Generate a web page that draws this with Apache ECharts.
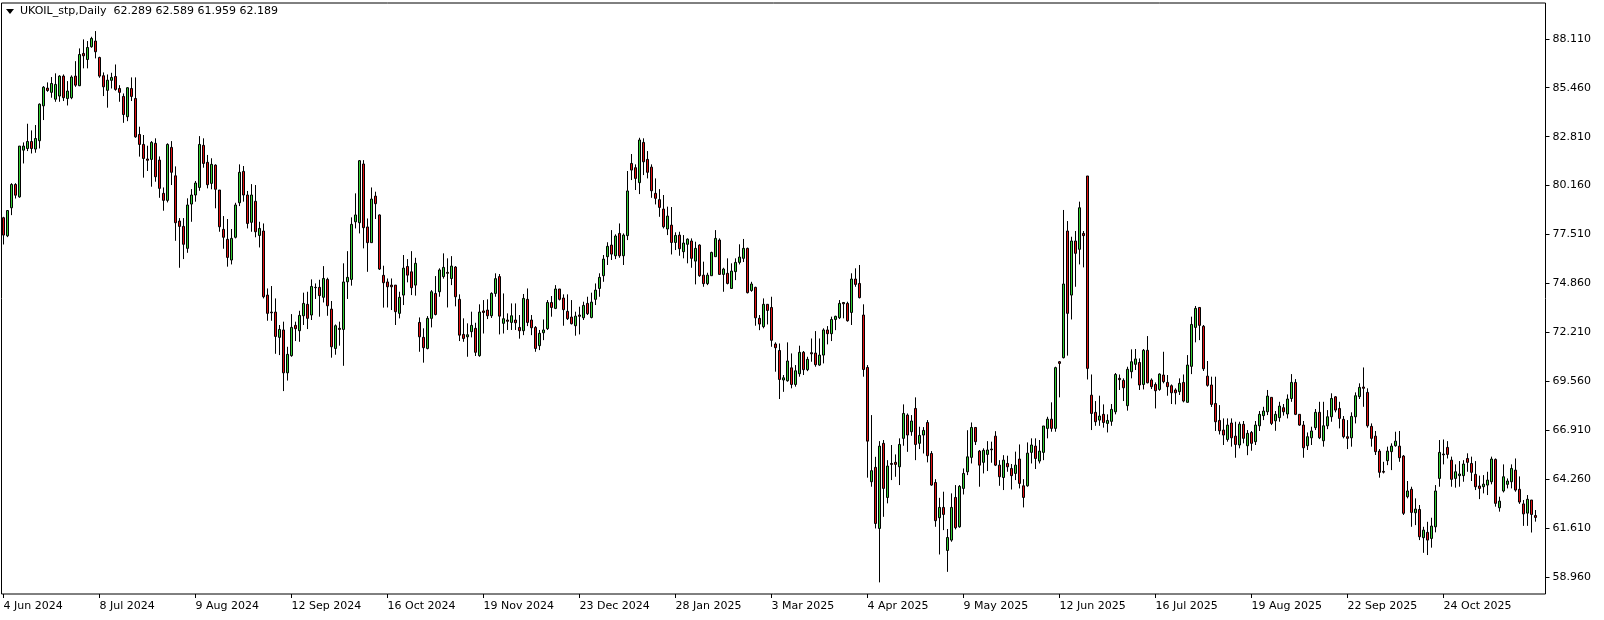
<!DOCTYPE html>
<html><head><meta charset="utf-8">
<script src="https://cdn.jsdelivr.net/npm/echarts@6/dist/echarts.min.js"></script>
<style>html,body{margin:0;padding:0;background:#fff}#c{width:1604px;height:620px}</style>
</head><body><div id="c"></div>
<script>
const symbolName = 'UKOIL_stp,Daily';
const startDate = '2024-06-04';
const holidays = ['2024-12-25', '2025-01-01', '2025-04-18'];
const monthNames = ['Jan','Feb','Mar','Apr','May','Jun','Jul','Aug','Sep','Oct','Nov','Dec'];
const yTicks = [58.96, 61.61, 64.26, 66.91, 69.56, 72.21, 74.86, 77.51, 80.16, 82.81, 85.46, 88.11];

const open = [
78.42,77.44,78.96,80.22,79.55,82.08,82.17,82.55,82.14,82.59,
84.48,85.44,85.21,84.84,85.01,86.09,84.88,84.92,86.09,85.57,
87.32,86.99,87.68,87.99,87.10,86.11,85.32,85.86,86.07,85.42,
84.99,83.89,85.42,84.88,82.93,82.39,81.60,81.58,82.45,81.54,
79.74,79.36,82.23,80.69,78.24,77.95,76.76,79.16,79.65,80.06,
82.34,81.42,80.28,81.27,79.92,77.79,77.25,76.13,77.36,79.23,
80.93,79.65,78.17,79.31,77.46,77.70,74.23,73.31,73.31,71.94,
72.34,70.02,70.95,72.59,72.30,73.11,73.73,73.15,74.65,74.65,
74.11,75.08,73.47,71.34,72.43,72.37,74.95,75.08,78.20,78.15,
81.33,77.92,77.07,79.59,78.57,75.30,74.94,74.77,74.77,73.24,
74.23,75.78,75.49,74.77,72.75,71.94,71.34,72.97,74.32,74.41,
75.23,75.46,75.13,75.75,74.00,72.10,71.97,72.25,72.43,70.95,
73.37,73.42,73.11,74.32,75.23,72.70,72.88,72.75,72.88,72.48,
72.30,74.00,72.88,72.48,71.49,72.19,72.41,73.83,73.51,74.56,
74.07,73.35,73.04,72.57,73.15,73.00,73.78,73.02,74.00,74.59,
75.28,76.31,76.94,76.36,77.57,76.36,77.45,81.36,81.13,80.32,
82.50,81.58,81.16,79.74,79.40,78.89,77.81,78.02,77.08,77.48,
76.58,76.98,77.16,76.07,76.94,75.31,74.85,75.28,76.31,77.21,
75.35,75.41,74.59,75.50,76.00,76.22,76.76,74.48,74.65,72.97,
72.52,73.73,73.56,71.58,71.23,69.63,69.59,70.29,69.39,69.97,
71.13,70.19,71.11,71.09,70.44,70.98,72.34,72.14,72.91,73.00,
73.83,73.78,73.29,75.10,74.86,73.15,70.31,64.12,64.90,61.59,
66.20,63.27,65.11,65.17,64.93,66.47,67.73,66.83,68.09,66.20,
66.65,67.33,65.65,64.08,62.17,62.73,60.40,60.96,63.27,61.68,
63.76,64.66,65.44,67.06,65.78,65.17,65.60,65.89,66.59,65.02,
64.35,65.11,64.84,64.57,65.35,63.90,63.90,65.71,66.05,65.24,
65.71,67.01,67.51,67.01,70.62,70.84,77.70,74.23,77.16,76.71,
77.57,80.68,68.81,67.88,67.46,67.77,67.28,67.39,67.91,69.72,
69.61,68.24,70.08,70.48,70.58,69.39,71.24,69.63,69.39,69.12,
69.90,69.50,69.32,69.09,69.00,69.50,68.42,70.37,72.48,73.56,
72.54,69.84,69.36,68.36,67.44,66.92,66.41,67.30,66.59,66.11,
67.23,66.07,66.79,66.29,67.15,67.70,67.91,68.69,67.42,67.59,
68.13,67.79,68.63,69.50,67.77,67.19,66.07,66.50,67.05,67.88,
66.34,67.15,67.64,68.72,68.09,67.50,66.56,66.50,67.64,68.73,
69.25,68.96,67.12,66.59,65.78,64.68,65.26,65.75,66.07,66.05,
65.51,63.31,63.71,62.44,62.62,61.09,61.38,61.05,61.68,64.30,
65.62,65.98,65.29,64.30,64.45,64.45,65.38,65.11,64.52,63.89,
63.85,63.94,64.12,65.33,62.71,63.62,63.98,64.12,64.75,63.71,
62.92,62.42,63.13,62.289];

const high = [
78.47,78.81,80.29,80.29,82.30,82.50,83.51,83.15,83.44,84.61,
85.55,85.75,86.04,86.24,86.14,86.18,85.82,86.13,86.90,87.59,
88.08,87.99,88.22,88.53,87.14,86.29,86.18,86.27,86.72,85.60,
85.15,85.49,86.02,86.02,83.35,82.90,82.32,82.57,82.72,81.74,
80.06,82.45,82.57,81.20,78.40,78.40,79.47,79.97,80.41,82.84,
82.72,81.82,81.64,81.31,79.92,78.51,78.35,77.81,79.23,81.31,
81.22,79.87,80.24,80.19,78.20,78.11,74.59,74.72,74.05,72.61,
72.79,71.43,73.20,72.79,73.38,74.36,74.41,75.08,74.86,75.06,
75.80,75.17,73.91,72.64,72.79,75.95,76.61,78.44,79.74,81.54,
81.54,78.38,80.06,79.83,78.60,75.82,75.13,75.13,74.77,74.41,
76.40,76.18,76.61,76.25,73.02,72.43,73.09,74.50,75.26,75.68,
76.49,76.22,76.34,75.80,74.27,72.97,72.70,73.33,72.73,73.73,
73.96,74.00,74.38,75.41,75.37,74.32,73.24,73.78,73.78,73.15,
74.29,74.59,73.15,72.55,72.34,72.91,73.96,74.18,74.77,74.56,
74.27,74.27,73.96,73.33,73.60,73.87,74.14,74.36,74.86,75.41,
76.40,77.09,77.75,77.52,78.11,77.57,80.95,81.87,81.31,82.75,
82.72,82.03,81.31,80.55,79.97,79.65,79.02,79.00,77.63,77.66,
77.48,77.30,77.30,77.12,76.98,76.04,75.44,76.58,77.75,77.30,
75.71,76.22,75.95,76.22,76.98,77.27,76.80,74.95,74.68,73.15,
74.05,73.73,74.14,71.67,71.61,69.90,71.67,71.07,70.44,71.49,
71.20,70.89,71.88,72.28,71.88,72.43,72.55,73.06,73.11,73.96,
73.83,73.87,75.41,75.68,75.86,73.73,70.44,67.73,65.47,66.32,
66.38,65.29,66.11,65.60,66.47,68.31,67.82,67.73,68.69,67.10,
67.08,67.46,65.78,64.26,63.25,63.58,61.56,63.49,63.94,63.94,
64.84,66.91,67.33,67.06,65.84,65.93,66.32,66.29,66.86,65.29,
65.56,65.53,65.08,65.75,66.14,64.26,66.25,66.47,66.47,66.38,
67.14,67.64,68.42,70.35,70.66,78.84,78.24,77.39,77.70,79.29,
77.70,80.68,69.93,68.49,68.78,68.31,67.77,68.33,70.01,69.93,
69.72,70.35,71.29,71.31,70.80,71.31,72.01,69.72,69.50,69.99,
71.16,69.90,69.39,69.18,69.72,69.93,70.98,73.06,73.64,73.56,
72.61,70.66,69.81,69.81,68.27,67.55,67.55,67.55,67.37,67.37,
67.41,66.92,66.87,67.41,67.95,68.18,69.09,68.69,67.95,68.45,
68.33,68.85,69.95,69.68,67.77,67.41,66.79,67.10,68.06,68.45,
68.45,68.00,68.91,68.76,68.45,67.68,67.46,67.88,68.96,69.45,
70.31,69.18,67.28,66.87,65.89,65.20,66.02,66.20,66.83,66.87,
65.57,64.16,63.85,63.22,62.86,61.68,61.95,62.17,63.94,66.38,
66.41,66.32,65.48,65.06,65.24,65.29,65.66,65.48,65.24,64.45,
64.48,64.66,65.48,65.38,63.31,65.06,64.30,65.06,65.38,64.41,
63.13,63.40,63.13,62.589];

const low = [
76.97,77.37,78.56,79.46,79.50,81.36,82.03,81.90,81.94,82.17,
83.71,85.24,84.92,84.70,84.70,84.74,84.50,84.84,85.51,85.55,
86.51,86.51,87.63,87.05,86.00,85.01,84.38,85.42,85.30,84.70,
83.56,83.65,84.74,82.75,81.73,80.59,80.95,80.10,80.37,79.50,
78.80,79.25,80.19,77.17,75.71,76.18,76.52,78.20,79.29,79.88,
81.13,80.01,79.96,78.93,77.66,76.74,75.77,75.89,77.30,79.05,
79.29,77.84,77.66,77.36,76.81,74.05,72.84,72.84,71.05,70.98,
69.03,69.60,70.89,71.74,71.70,72.61,72.39,72.88,74.02,73.06,
73.83,73.11,70.84,71.00,71.49,70.40,74.02,74.74,77.84,77.57,
76.76,75.49,77.07,78.35,75.59,73.55,73.56,73.42,72.61,72.97,
73.69,74.92,74.23,74.20,71.16,70.57,71.29,72.48,73.13,74.14,
75.12,73.56,74.77,73.62,71.74,71.70,70.89,71.94,70.93,70.89,
72.15,72.93,72.99,74.14,72.10,72.15,72.34,72.34,72.34,71.87,
72.06,72.55,72.06,71.16,71.25,71.79,72.34,73.06,73.47,73.94,
72.57,72.88,72.64,72.03,72.10,72.88,73.15,72.97,73.69,74.14,
74.95,75.86,76.13,76.18,76.25,75.86,77.21,80.46,79.92,79.70,
80.73,80.55,79.50,79.14,78.47,77.84,77.48,76.43,76.67,76.36,
76.22,75.95,75.71,74.81,75.22,74.68,74.77,75.28,76.31,75.35,
74.41,74.81,74.56,75.04,75.89,76.02,74.32,74.41,72.57,72.33,
72.43,72.64,71.43,70.08,68.60,68.99,69.54,69.18,69.27,69.81,
69.90,70.11,70.62,70.35,70.40,70.53,71.56,71.74,72.33,72.93,
72.97,72.79,72.61,74.68,74.05,69.81,64.34,63.85,61.59,58.67,
62.22,62.95,64.21,64.39,63.94,66.07,65.74,66.61,65.29,65.89,
65.65,65.17,63.90,61.68,60.18,61.50,59.24,60.87,61.54,61.63,
63.43,64.48,65.11,66.11,63.85,64.57,64.70,65.15,64.97,63.90,
63.67,64.66,63.70,64.21,63.76,62.73,63.85,65.11,64.81,65.11,
65.29,66.47,66.83,66.83,68.69,70.80,70.95,72.91,74.68,75.89,
75.73,69.66,66.92,67.15,67.15,67.05,66.79,67.15,67.77,69.09,
68.49,67.97,69.72,70.17,69.09,69.12,69.45,69.14,68.09,69.05,
69.45,68.78,68.33,68.31,68.82,68.42,68.42,69.95,71.67,71.79,
70.12,69.27,68.17,66.87,66.68,66.11,66.29,66.02,65.42,65.93,
66.20,65.56,65.80,66.11,66.87,67.46,67.73,67.19,66.88,67.37,
67.70,67.55,68.45,67.73,67.15,65.42,65.84,66.11,66.92,66.43,
66.02,66.97,67.37,67.88,67.01,66.47,65.89,66.02,67.28,68.60,
68.18,67.05,66.02,65.57,64.34,64.57,65.02,64.75,66.02,65.20,
62.32,63.22,61.68,61.77,60.96,60.27,60.15,60.55,61.38,63.85,
65.06,65.38,63.85,63.80,63.85,64.12,64.66,64.16,63.67,63.18,
63.49,63.40,63.98,62.77,62.50,63.54,63.76,63.76,63.58,62.92,
61.73,61.73,61.37,61.959];

const close = [
77.48,78.81,80.22,79.64,82.30,82.30,82.55,82.17,82.71,84.57,
85.49,85.31,85.69,85.64,86.09,84.92,85.28,86.04,85.60,87.26,
87.19,87.64,88.13,87.41,86.09,85.51,85.87,86.02,85.37,85.21,
84.01,85.46,84.99,82.80,82.39,81.63,81.53,82.50,80.64,80.01,
79.36,82.39,80.88,78.15,77.95,76.98,79.11,79.65,80.30,82.39,
81.36,80.21,81.31,79.96,77.93,77.36,76.27,77.30,79.11,80.88,
79.65,78.11,79.65,77.66,77.84,74.14,73.24,73.27,71.99,72.37,
70.02,71.02,72.48,72.41,73.13,73.78,72.97,74.70,74.63,74.20,
75.13,73.65,71.43,72.57,72.37,74.94,75.19,78.06,78.57,81.51,
77.88,77.07,79.43,79.18,75.64,74.90,74.68,74.68,73.33,74.11,
75.69,75.31,74.63,75.95,71.97,71.38,72.97,74.41,73.18,75.59,
75.73,75.41,75.80,74.14,72.06,71.88,72.08,72.59,71.13,73.31,
73.29,73.11,74.32,75.12,73.09,72.95,72.81,73.11,72.73,72.30,
74.05,72.75,72.46,71.34,72.16,72.34,73.83,73.56,74.56,74.00,
73.44,72.95,72.68,73.09,73.08,73.67,73.22,73.85,74.50,75.19,
76.18,76.87,76.45,77.43,76.36,77.48,79.87,81.00,80.55,82.63,
81.45,80.88,79.88,79.47,78.98,77.93,78.51,77.08,77.46,76.74,
77.05,77.26,76.22,76.76,75.28,74.85,75.31,76.54,77.30,75.35,
75.64,74.86,75.53,76.00,76.29,76.76,74.36,74.83,73.00,72.66,
73.73,73.40,71.78,71.38,69.66,69.75,70.66,69.39,70.13,71.13,
70.19,70.75,71.05,70.46,70.98,72.34,72.14,72.91,73.08,73.78,
73.76,72.84,75.10,74.81,74.09,70.20,66.32,64.72,61.86,66.05,
63.76,64.97,65.06,65.06,66.14,67.82,66.65,67.41,66.14,66.63,
66.90,65.53,63.94,62.01,62.73,62.35,61.10,62.73,61.63,63.87,
64.57,65.47,67.06,66.29,65.02,65.82,65.84,65.85,65.02,64.39,
65.29,64.93,64.45,65.02,64.03,63.27,65.67,66.11,65.38,65.78,
67.14,67.51,67.01,70.30,70.53,74.83,73.24,77.16,76.49,78.96,
77.45,70.26,67.82,67.37,67.68,67.33,67.44,68.04,69.93,69.65,
69.21,70.21,70.62,70.77,69.36,71.24,69.48,69.27,69.05,69.95,
69.54,69.27,68.94,68.94,69.45,68.49,70.44,72.64,73.51,72.59,
70.24,69.34,68.31,67.37,66.88,66.65,67.19,66.50,66.14,67.24,
66.47,66.74,66.20,67.19,67.77,67.95,68.76,67.28,67.77,68.22,
67.91,68.60,69.50,67.77,67.19,65.96,66.56,66.87,67.88,66.50,
67.15,67.64,68.63,68.00,67.55,66.56,66.47,67.66,68.78,69.23,
69.18,67.15,66.47,65.75,64.63,64.64,65.78,66.05,66.32,65.42,
62.41,63.62,62.46,62.64,61.14,61.50,60.96,61.72,63.62,65.71,
65.58,65.60,64.25,64.66,64.54,65.08,65.17,64.63,63.85,63.76,
63.99,64.21,65.35,62.95,63.07,64.39,64.16,64.84,63.67,63.02,
62.38,63.17,62.35,62.189];

// ---- build categories (trading days) ----
const N = open.length;
const dates = [];
(function () {
  const hol = new Set(holidays);
  const p = startDate.split('-').map(Number);
  let t = Date.UTC(p[0], p[1] - 1, p[2]);
  while (dates.length < N) {
    const d = new Date(t);
    const wd = d.getUTCDay();
    const key = d.toISOString().slice(0, 10);
    if (wd !== 0 && wd !== 6 && !hol.has(key)) {
      dates.push(d.getUTCDate() + ' ' + monthNames[d.getUTCMonth()] + ' ' + d.getUTCFullYear());
    }
    t += 86400000;
  }
})();
const cats = dates.concat(['', '']);

const kdata = open.map((o, i) => {
  const c = close[i];
  return [o, c, Math.min(low[i], o, c), Math.max(high[i], o, c)];
});

const last = N - 1;
const titleText = symbolName + '  ' + [open[last], high[last], low[last], close[last]].map(v => v.toFixed(3)).join(' ');
const FONT = 'DejaVu Sans';
const showIdx = (i) => i % 24 === 0 && i < N;

const chart = echarts.init(document.getElementById('c'), null, { renderer: 'canvas' });
chart.setOption({
  animation: false,
  backgroundColor: '#ffffff',
  grid: { left: 1.5, top: 3, width: 1544, height: 591, show: true, borderColor: '#000', borderWidth: 1, backgroundColor: '#fff', containLabel: false },
  xAxis: {
    type: 'category', data: cats, boundaryGap: true,
    axisLine: { show: false },
    axisTick: { show: true, alignWithLabel: true, interval: showIdx, length: 4, lineStyle: { color: '#000' } },
    axisLabel: { interval: showIdx, align: 'left', margin: 7, color: '#000', fontFamily: FONT, fontSize: 11, showMinLabel: true, showMaxLabel: true, hideOverlap: false },
    splitLine: { show: false }
  },
  yAxis: {
    type: 'value', position: 'right', min: 58.04, max: 90.05, scale: true,
    splitLine: { show: false },
    axisLine: { show: false },
    axisTick: { show: true, customValues: yTicks, length: 4, lineStyle: { color: '#000' } },
    axisLabel: { customValues: yTicks, formatter: (v) => Number(v).toFixed(3), color: '#000', fontFamily: FONT, fontSize: 11, margin: 7 }
  },
  graphic: [
    { type: 'polygon', shape: { points: [[6, 9], [14, 9], [10, 14]] }, style: { fill: '#000' }, z: 100 },
    { type: 'text', x: 20, y: 6, style: { text: titleText, font: '11px "DejaVu Sans"', fill: '#000' }, z: 100 }
  ],
  series: [{
    type: 'candlestick',
    data: kdata,
    barWidth: 2,
    itemStyle: { color: '#32cd32', color0: '#e01010', borderColor: '#000', borderColor0: '#000', borderWidth: 1 },
    emphasis: { disabled: true },
    markLine: {
      silent: true, animation: false, symbol: ['none', 'none'],
      data: [{ yAxis: close[last] }],
      lineStyle: { opacity: 0 },
      label: { show: true, position: 'end', distance: 3, formatter: close[last].toFixed(3), color: '#fff', backgroundColor: '#000', padding: [1, 6, 0, 3], lineHeight: 12, fontFamily: FONT, fontSize: 11 }
    }
  }]
});
</script>
</body></html>
